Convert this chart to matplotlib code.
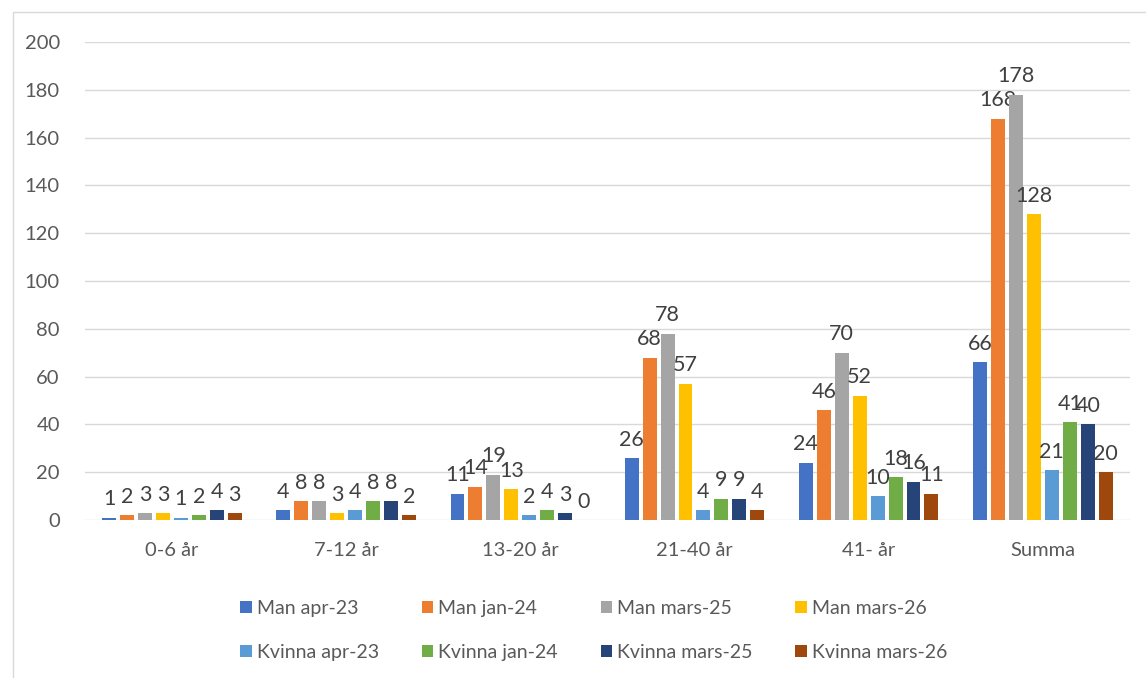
import numpy as np
import matplotlib.pyplot as plt
from matplotlib.patches import Rectangle

# age groups and counts per series
categories = ['0-6 år', '7-12 år', '13-20 år', '21-40 år', '41- år', 'Summa']
series_names = ['Man apr-23', 'Man jan-24', 'Man mars-25', 'Man mars-26',
                'Kvinna apr-23', 'Kvinna jan-24', 'Kvinna mars-25', 'Kvinna mars-26']
man_apr23 = [1, 4, 11, 26, 24, 66]
man_jan24 = [2, 8, 14, 68, 46, 168]
man_mar25 = [3, 8, 19, 78, 70, 178]
man_mar26 = [3, 3, 13, 57, 52, 128]
kv_apr23 = [1, 4, 2, 4, 10, 21]
kv_jan24 = [2, 8, 4, 9, 18, 41]
kv_mar25 = [4, 8, 3, 9, 16, 40]
kv_mar26 = [3, 2, 0, 4, 11, 20]
series = [man_apr23, man_jan24, man_mar25, man_mar26, kv_apr23, kv_jan24, kv_mar25, kv_mar26]
colors = ['#4472C4', '#ED7D31', '#A5A5A5', '#FFC000',
          '#5B9BD5', '#70AD47', '#264478', '#9E480E']

plt.rcParams['font.family'] = ['Lato', 'DejaVu Sans']
txt = '#595959'

fig = plt.figure(figsize=(11.46, 6.78), dpi=100)
ax = fig.add_axes([0.074, 0.233, 0.912, 0.705])
# chart border
fig.patches.append(Rectangle((0.011, -0.01), 0.99, 0.993, transform=fig.transFigure,
                             fill=False, edgecolor='#D9D9D9', linewidth=1))

x = np.arange(len(categories))
step = 0.103
width = 0.08
handles = []
for i, (vals, name, c) in enumerate(zip(series, series_names, colors)):
    pos = x + (i - 3.5) * step
    bars = ax.bar(pos, vals, width, color=c, label=name, zorder=3)
    handles.append(bars)
    for b, v in zip(bars, vals):
        ax.annotate(str(v), (b.get_x() + b.get_width() / 2, v), xytext=(0, 6),
                    textcoords='offset points', ha='center', va='bottom',
                    fontsize=15.5, color='#404040')

ax.set_xlim(-0.5, 5.5)
ax.set_ylim(0, 200)
ax.set_yticks(range(0, 201, 20))
ax.set_xticks(x)
ax.set_xticklabels(categories)
ax.tick_params(axis='both', length=0, labelsize=14.5, colors=txt)
ax.tick_params(axis='x', pad=16)
ax.tick_params(axis='y', pad=18)
ax.yaxis.grid(True, color='#D9D9D9', linewidth=1, zorder=0)
for s in ax.spines.values():
    s.set_visible(False)

# legend filled row by row
order = [0, 4, 1, 5, 2, 6, 3, 7]
ax.legend([handles[k] for k in order], [series_names[k] for k in order],
          loc='upper center', bbox_to_anchor=(0.487, -0.13), ncol=4, frameon=False,
          fontsize=14, labelcolor=txt, handlelength=0.6, handleheight=0.6,
          handletextpad=0.25, columnspacing=2.2, labelspacing=1.4)

fig.savefig('out.png', dpi=100)
